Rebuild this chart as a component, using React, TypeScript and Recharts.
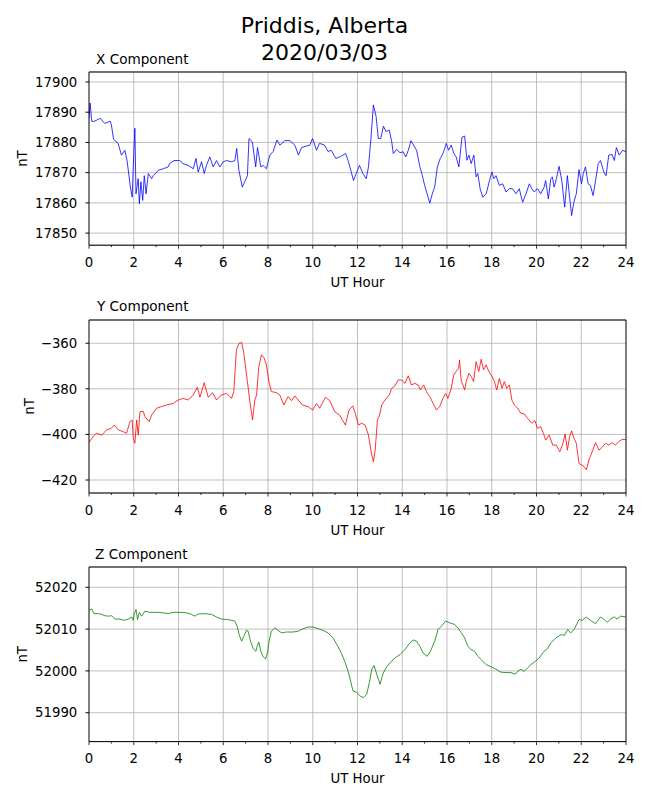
import React from "react";
import {
  LineChart,
  Line,
  XAxis,
  YAxis,
  CartesianGrid,
  ReferenceLine,
} from "recharts";

// hours (UT) and nT readings
const xCompHours = [
  0, 0.05, 0.12, 0.2, 0.35, 0.5, 0.7, 0.95, 1.0, 1.1, 1.3, 1.45, 1.6, 1.7, 1.85, 1.93, 2.0, 2.05, 2.1, 2.2,
  2.25, 2.32, 2.4, 2.47, 2.55, 2.65, 2.8, 2.87, 3.1, 3.32, 3.54, 3.6, 3.8, 4.06, 4.2, 4.43, 4.66, 4.78, 4.88, 5.03,
  5.15, 5.25, 5.4, 5.55, 5.7, 5.85, 6.0, 6.15, 6.37, 6.52, 6.6, 6.7, 6.85, 6.96, 7.08, 7.15, 7.3, 7.45, 7.53, 7.68,
  7.78, 7.93, 8.08, 8.23, 8.4, 8.53, 8.75, 8.97, 9.2, 9.36, 9.5, 9.72, 9.87, 9.99, 10.17, 10.3, 10.53, 10.68, 10.83, 11.03,
  11.2, 11.35, 11.47, 11.58, 11.7, 11.82, 11.97, 12.09, 12.24, 12.39, 12.49, 12.6, 12.71, 12.83, 12.93, 13.04, 13.16, 13.27, 13.42, 13.53,
  13.6, 13.75, 13.9, 14.04, 14.16, 14.27, 14.39, 14.53, 14.64, 14.79, 14.9, 15.0, 15.11, 15.23, 15.35, 15.45, 15.57, 15.7, 15.82, 15.97,
  16.07, 16.19, 16.31, 16.41, 16.53, 16.67, 16.79, 16.89, 16.98, 17.08, 17.2, 17.3, 17.38, 17.48, 17.6, 17.75, 17.9, 18.01, 18.09, 18.19,
  18.34, 18.49, 18.64, 18.79, 18.93, 19.08, 19.23, 19.38, 19.53, 19.68, 19.79, 19.9, 20.04, 20.19, 20.34, 20.41, 20.53, 20.64, 20.71, 20.79,
  20.89, 21.01, 21.13, 21.26, 21.38, 21.45, 21.57, 21.67, 21.78, 21.9, 22.01, 22.09, 22.19, 22.31, 22.41, 22.53, 22.64, 22.76, 22.86, 23.01,
  23.11, 23.23, 23.38, 23.48, 23.57, 23.7, 23.85, 24.0,
];
const xCompValues = [
  17888, 17893, 17887, 17886.9, 17887.4, 17888, 17886.3, 17887, 17885.8, 17881, 17879.7, 17875.8, 17877.4, 17874, 17865.2, 17861.9, 17876.3, 17884.7, 17863, 17868,
  17859.7, 17867, 17860.8, 17869, 17863, 17869.7, 17868, 17869, 17870.8, 17871.3, 17871.9, 17873, 17874, 17874, 17873, 17872.4, 17871.3, 17874.7, 17870.2, 17873.6,
  17869.7, 17872.4, 17875.2, 17871.9, 17874, 17871.9, 17873.6, 17874, 17873.6, 17874, 17878, 17870.8, 17865.2, 17867, 17869, 17881.3, 17880.2, 17871.9, 17878.3, 17871.9,
  17872.4, 17871.3, 17875.8, 17877, 17880.8, 17879.1, 17880.6, 17880.6, 17879.1, 17875.8, 17878.3, 17878.8, 17879.1, 17881.3, 17877.4, 17879.7, 17879.1, 17877, 17877.4, 17874.7,
  17875.2, 17875.8, 17876.3, 17874, 17870.8, 17867.4, 17870.2, 17872.4, 17869.7, 17868, 17871.9, 17881.3, 17892.4, 17888.6, 17881.3, 17881.3, 17885.4, 17883.6, 17884.1, 17880.2,
  17876.3, 17877.7, 17876.6, 17876.9, 17875.2, 17877.4, 17880.6, 17878.8, 17877.4, 17871.9, 17869, 17865.8, 17863, 17859.9, 17863.2, 17865.2, 17871.9, 17874.7, 17876.3, 17879.7,
  17877.4, 17879.1, 17876.3, 17875.2, 17871.9, 17881.7, 17882.1, 17874.1, 17875.8, 17873, 17875.8, 17868.6, 17869.7, 17864.7, 17861.9, 17863, 17867.4, 17870.2, 17868, 17869,
  17865.8, 17866.3, 17863.6, 17864.7, 17864.7, 17863, 17864.7, 17860.2, 17863, 17866.3, 17864.7, 17863.6, 17864.7, 17863, 17865.2, 17867.4, 17861.3, 17868, 17868.6, 17865.2,
  17868, 17872.1, 17867.4, 17858.6, 17869, 17864.1, 17855.8, 17860.2, 17863, 17871, 17866.3, 17869.7, 17871.9, 17866.3, 17865.8, 17862.4, 17867.4, 17873, 17874, 17870.2,
  17869, 17875.8, 17876, 17874, 17878.3, 17875.8, 17877.4, 17876.9,
];

const yCompHours = [
  0, 0.2, 0.34, 0.57, 0.79, 1.0, 1.13, 1.31, 1.53, 1.68, 1.83, 1.93, 1.98, 2.05, 2.13, 2.2, 2.28, 2.43, 2.5, 2.69,
  2.8, 3.02, 3.24, 3.47, 3.76, 3.99, 4.21, 4.43, 4.66, 4.84, 4.96, 5.15, 5.33, 5.52, 5.7, 5.92, 6.15, 6.37, 6.47, 6.59,
  6.71, 6.82, 6.92, 7.08, 7.19, 7.31, 7.41, 7.49, 7.59, 7.71, 7.83, 7.93, 8.04, 8.15, 8.38, 8.53, 8.71, 8.9, 9.05, 9.2,
  9.35, 9.54, 9.79, 9.99, 10.17, 10.31, 10.57, 10.76, 10.98, 11.2, 11.46, 11.62, 11.79, 11.9, 12.04, 12.19, 12.34, 12.49, 12.61, 12.71,
  12.79, 12.89, 12.98, 13.08, 13.23, 13.42, 13.53, 13.67, 13.82, 13.97, 14.12, 14.27, 14.41, 14.56, 14.71, 14.81, 14.96, 15.08, 15.23, 15.38,
  15.53, 15.67, 15.82, 15.94, 16.04, 16.19, 16.3, 16.41, 16.52, 16.56, 16.64, 16.71, 16.79, 16.86, 16.98, 17.08, 17.19, 17.3, 17.42, 17.53,
  17.63, 17.75, 17.87, 18.01, 18.12, 18.22, 18.34, 18.46, 18.56, 18.67, 18.79, 18.9, 19.01, 19.16, 19.3, 19.45, 19.6, 19.79, 19.93, 20.04,
  20.19, 20.31, 20.41, 20.56, 20.73, 20.89, 21.04, 21.16, 21.28, 21.38, 21.48, 21.57, 21.67, 21.78, 21.9, 22.01, 22.13, 22.23, 22.34, 22.49,
  22.64, 22.79, 22.93, 23.08, 23.23, 23.38, 23.53, 23.67, 23.82, 24.0,
];
const yCompValues = [
  -403.5, -400.7, -399.5, -400.3, -398, -397.3, -395.9, -398, -398.8, -399.5, -394.4, -393.7, -401.7, -403.9, -393.7, -400.3, -390, -390, -392.2, -394.4,
  -391.5, -388.5, -387.8, -387.1, -386.4, -384.9, -384.2, -384.9, -382.7, -379.3, -383.7, -377.3, -383.7, -381.7, -384.9, -382.7, -382, -384.2, -381.2, -362.9,
  -360, -359.7, -364.4, -376.8, -385.6, -393.7, -384.9, -382.7, -370.2, -365.1, -366.5, -369.5, -376.8, -381.2, -381.7, -382.7, -387.1, -383.4, -385.2, -383.1,
  -384.9, -387.1, -387.8, -389.3, -386.4, -388.5, -383.7, -385.2, -390, -391.5, -395.9, -389.3, -387.5, -390.7, -395.9, -395.1, -395.9, -400.3, -407.6, -412,
  -406.9, -393.7, -391.9, -387.1, -384.9, -382.7, -379.8, -378.7, -376.1, -376.1, -377.6, -374.3, -378.3, -377.6, -378.3, -380.5, -378.3, -381.2, -383.4, -386.4,
  -389.3, -387.8, -384.2, -382, -384.2, -379.8, -373.9, -372.4, -371, -367.3, -376.8, -378.3, -380.5, -376.8, -373.2, -374.6, -376.8, -368.1, -372.4, -367,
  -371.7, -369.5, -372.4, -374.6, -376.8, -380.5, -375.4, -379.8, -376.8, -379.8, -378.3, -384.9, -387.1, -388.5, -390.7, -391, -392.9, -395.1, -394, -397.3,
  -396.6, -399.5, -402.5, -400.3, -404.7, -404.7, -407.6, -404.7, -399.8, -406.9, -401, -398.4, -401.7, -403.9, -412.7, -413.4, -414.2, -415.6, -411.2, -407.6,
  -403.6, -406.9, -405.7, -403.9, -404.7, -403.6, -404.7, -403.2, -402.2, -402.2,
];

const zCompHours = [
  0, 0.12, 0.22, 0.42, 0.57, 0.71, 0.86, 1.01, 1.16, 1.38, 1.58, 1.76, 1.9, 1.98, 2.02, 2.1, 2.17, 2.25, 2.35, 2.5,
  2.72, 3.02, 3.32, 3.54, 3.76, 4.06, 4.36, 4.58, 4.73, 4.88, 5.18, 5.48, 5.7, 5.92, 6.15, 6.37, 6.52, 6.62, 6.71, 6.82,
  6.92, 7.04, 7.11, 7.22, 7.34, 7.46, 7.51, 7.59, 7.68, 7.78, 7.89, 7.98, 8.05, 8.15, 8.3, 8.45, 8.6, 8.82, 9.12, 9.35,
  9.57, 9.79, 10.01, 10.24, 10.46, 10.68, 10.9, 11.13, 11.28, 11.43, 11.58, 11.68, 11.8, 11.95, 12.12, 12.27, 12.41, 12.53, 12.64, 12.74,
  12.86, 13.01, 13.13, 13.27, 13.45, 13.67, 13.9, 14.12, 14.34, 14.49, 14.64, 14.79, 14.93, 15.11, 15.26, 15.45, 15.6, 15.75, 15.94, 16.12,
  16.34, 16.49, 16.64, 16.79, 16.93, 17.08, 17.23, 17.38, 17.53, 17.75, 17.97, 18.19, 18.41, 18.64, 18.86, 19.05, 19.16, 19.3, 19.45, 19.6,
  19.75, 19.9, 20.12, 20.34, 20.49, 20.64, 20.87, 21.1, 21.25, 21.4, 21.53, 21.68, 21.9, 22.04, 22.22, 22.41, 22.64, 22.86, 23.0, 23.16,
  23.3, 23.48, 23.6, 23.75, 24.0,
];
const zCompValues = [
  52014.5, 52014.8, 52013.7, 52013.7, 52013.5, 52013.2, 52013.1, 52013.2, 52012.4, 52012.4, 52012.1, 52012.4, 52012.9, 52012.1, 52013.7, 52014.7, 52012.3, 52014, 52013.1, 52014.3,
  52014, 52014, 52013.9, 52013.7, 52014, 52014, 52013.9, 52013.5, 52013.1, 52013.6, 52013.7, 52013.5, 52012.9, 52012.4, 52012.3, 52012.1, 52011.9, 52010.7, 52008.7, 52007.1,
  52008.3, 52009.7, 52009.5, 52007.1, 52005.3, 52004.7, 52005.8, 52006.9, 52004.7, 52003.4, 52002.9, 52004.3, 52007.1, 52009.5, 52010.3, 52009.7, 52009.1, 52009.3, 52009.3, 52009.5,
  52010.1, 52010.5, 52010.5, 52010.1, 52009.7, 52009.1, 52007.9, 52005.8, 52004.2, 52002.3, 51999.9, 51997.8, 51995.2, 51994.9, 51994, 51993.6, 51994.4, 51997.2, 52000.4, 52001.3,
  51999.2, 51996.8, 51999.2, 52000.7, 52001.9, 52003.1, 52003.9, 52005.1, 52006.7, 52007.4, 52007.1, 52005.9, 52004.3, 52003.5, 52004.7, 52007.1, 52009.9, 52010.7, 52011.9, 52011.5,
  52011.1, 52010.3, 52009.1, 52007.9, 52005.9, 52005.1, 52004.7, 52003.5, 52002.7, 52001.5, 52001, 52000.4, 51999.7, 51999.6, 51999.6, 51999.2, 51999.9, 52000.4, 51999.9, 52000.7,
  52001.5, 52002.1, 52003.1, 52004.7, 52005.3, 52006.7, 52007.9, 52008.7, 52008.5, 52009.9, 52009.1, 52009.9, 52012.3, 52012.1, 52012.9, 52012.1, 52011.3, 52012.9, 52012.4, 52011.6,
  52012.4, 52012.9, 52012.4, 52013.1, 52012.9,
];

const hourTicks = [0, 1, 2, 3, 4, 5, 6, 7, 8, 9, 10, 11, 12, 13, 14, 15, 16, 17, 18, 19, 20, 21, 22, 23, 24];
const gridHours = [2, 4, 6, 8, 10, 12, 14, 16, 18, 20, 22];
const xCompTicks = [17850, 17860, 17870, 17880, 17890, 17900];
const yCompTicks = [-420, -400, -380, -360];
const zCompTicks = [51990, 52000, 52010, 52020];

const FONT = 13.3;

const fmtNT = (v: number) => (v < 0 ? "\u2212" + Math.abs(v) : String(v));

// major ticks every 2 h with a label, short minor tick on odd hours
const HourTick = (props: any) => {
  const { x, y, payload } = props;
  const major = payload.value % 2 === 0;
  return (
    <g>
      <line x1={x} x2={x} y1={y} y2={y + (major ? 3.5 : 2)} stroke="#000" strokeWidth={0.8} />
      {major && (
        <text x={x} y={y + 21.5} textAnchor="middle" fontSize={FONT} fill="#000">
          {payload.value}
        </text>
      )}
    </g>
  );
};

interface PanelProps {
  plotTop: number;
  plotHeight: number;
  hours: number[];
  values: number[];
  color: string;
  domain: [number, number];
  yTicks: number[];
  yLabelX: number;
}

const Panel: React.FC<PanelProps> = ({ plotTop, plotHeight, hours, values, color, domain, yTicks, yLabelX }) => {
  const data = hours.map((h, i) => ({ h, v: values[i] }));
  return (
    <div style={{ position: "absolute", left: 0, top: plotTop - 32 }}>
      <LineChart
        width={650}
        height={plotHeight + 82}
        data={data}
        margin={{ top: 32, right: 24, left: 29, bottom: 0 }}
      >
        <CartesianGrid vertical={false} stroke="#b0b0b0" strokeWidth={0.8} />
        {gridHours.map((h) => (
          <ReferenceLine key={h} x={h} stroke="#b0b0b0" strokeWidth={0.8} />
        ))}
        <ReferenceLine y={domain[1]} stroke="#000" strokeWidth={1} />
        <ReferenceLine x={24} stroke="#000" strokeWidth={1} />
        <XAxis
          type="number"
          dataKey="h"
          domain={[0, 24]}
          ticks={hourTicks}
          interval={0}
          tick={HourTick}
          tickLine={false}
          tickSize={0}
          tickMargin={0}
          height={50}
          stroke="#000"
          allowDataOverflow
          label={{ value: "UT Hour", position: "insideBottom", offset: 8.5, fill: "#000", fontSize: FONT }}
        />
        <YAxis
          type="number"
          domain={domain}
          ticks={yTicks}
          interval={0}
          width={60}
          tickSize={3.5}
          tickMargin={8.2}
          stroke="#000"
          tick={{ fill: "#000", fontSize: FONT }}
          tickFormatter={fmtNT}
          allowDataOverflow
          label={{
            value: "nT",
            angle: -90,
            position: "insideLeft",
            offset: yLabelX - 29,
            fill: "#000",
            fontSize: FONT,
            style: { textAnchor: "middle" },
          }}
        />
        <Line
          type="linear"
          dataKey="v"
          stroke={color}
          strokeWidth={0.8}
          dot={false}
          isAnimationActive={false}
        />
      </LineChart>
    </div>
  );
};

export default function App() {
  return (
    <div
      style={{
        position: "absolute",
        left: 0,
        top: 0,
        width: 650,
        height: 800,
        background: "#fff",
        fontFamily: "'DejaVu Sans', sans-serif",
      }}
    >
      <svg width={650} height={800} style={{ position: "absolute", left: 0, top: 0 }}>
        <text x={324.5} y={33.3} textAnchor="middle" fontSize={22} fill="#000">
          Priddis, Alberta
        </text>
        <text x={324.5} y={60} textAnchor="middle" fontSize={22} fill="#000">
          2020/03/03
        </text>
        <text x={96} y={64} fontSize={13.6} fill="#000">X Component</text>
        <text x={97} y={311} fontSize={13.6} fill="#000">Y Component</text>
        <text x={95} y={559} fontSize={13.6} fill="#000">Z Component</text>
      </svg>
      <Panel
        plotTop={72.3}
        plotHeight={173.2}
        hours={xCompHours}
        values={xCompValues}
        color="#0000ff"
        domain={[17846, 17903.3]}
        yTicks={xCompTicks}
        yLabelX={22}
      />
      <Panel
        plotTop={320}
        plotHeight={173}
        hours={yCompHours}
        values={yCompValues}
        color="#ff0000"
        domain={[-425.7, -349.8]}
        yTicks={yCompTicks}
        yLabelX={29}
      />
      <Panel
        plotTop={567.4}
        plotHeight={174.6}
        hours={zCompHours}
        values={zCompValues}
        color="#008000"
        domain={[51983.1, 52024.85]}
        yTicks={zCompTicks}
        yLabelX={22}
      />
    </div>
  );
}
